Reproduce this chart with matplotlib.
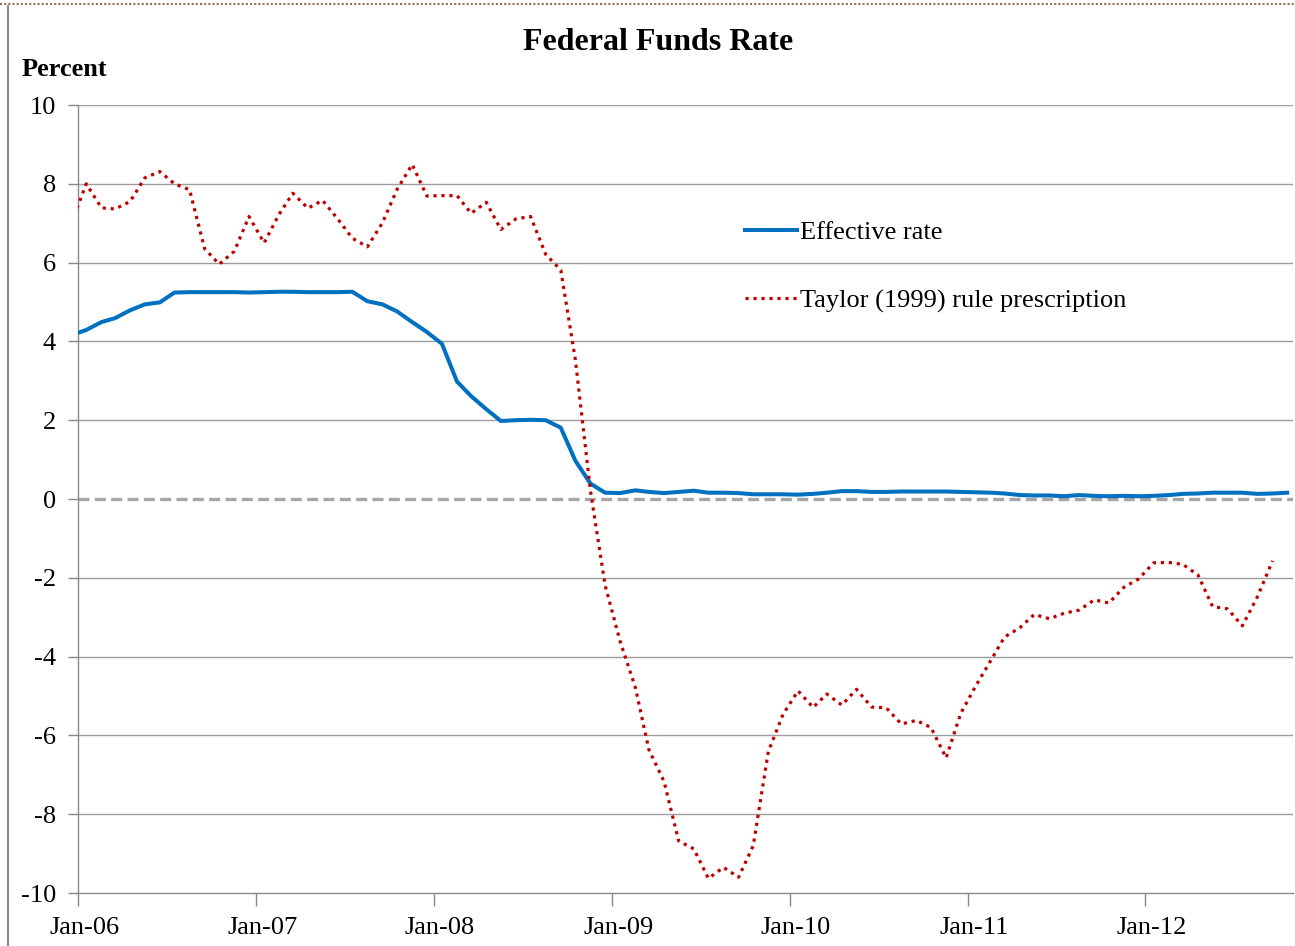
import numpy as np
import pandas as pd
import matplotlib
matplotlib.use("Agg")
import matplotlib.pyplot as plt
import matplotlib.dates as mdates
from matplotlib.lines import Line2D

plt.rcParams['font.family'] = ['Liberation Serif', 'DejaVu Serif']
plt.rcParams['axes.unicode_minus'] = False

# ---------------- data ----------------
blue_start, blue_end = '2005-12-01', '2012-10-01'
red_start, red_end = '2005-12-01', '2012-09-01'

effective_rate = [
    4.16,
    4.29, 4.49, 4.59, 4.79, 4.94, 4.99, 5.24, 5.25, 5.25, 5.25, 5.25, 5.24,
    5.25, 5.26, 5.26, 5.25, 5.25, 5.25, 5.26, 5.02, 4.94, 4.76, 4.49, 4.24,
    3.94, 2.98, 2.61, 2.28, 1.98, 2.00, 2.01, 2.00, 1.81, 0.97, 0.39, 0.16,
    0.15, 0.22, 0.18, 0.15, 0.18, 0.21, 0.16, 0.16, 0.15, 0.12, 0.12, 0.12,
    0.11, 0.13, 0.16, 0.20, 0.20, 0.18, 0.18, 0.19, 0.19, 0.19, 0.19, 0.18,
    0.17, 0.16, 0.14, 0.10, 0.09, 0.09, 0.07, 0.10, 0.08, 0.07, 0.08, 0.07,
    0.08, 0.10, 0.13, 0.14, 0.16, 0.16, 0.16, 0.13, 0.14, 0.16,
]

taylor_rule = [
    7.00,
    8.00, 7.39, 7.36, 7.55, 8.15, 8.31, 8.00, 7.85, 6.35, 5.96, 6.29, 7.17,
    6.50, 7.23, 7.76, 7.38, 7.58, 7.11, 6.62, 6.40, 7.01, 7.86, 8.49, 7.69,
    7.70, 7.70, 7.25, 7.53, 6.84, 7.11, 7.17, 6.21, 5.81, 3.53, 0.20, -2.19,
    -3.62, -4.78, -6.37, -7.17, -8.68, -8.88, -9.63, -9.35, -9.60, -8.80, -6.41, -5.47,
    -4.87, -5.29, -4.95, -5.23, -4.83, -5.28, -5.30, -5.71, -5.62, -5.80, -6.57, -5.44,
    -4.74, -4.09, -3.50, -3.27, -2.93, -3.04, -2.90, -2.82, -2.56, -2.64, -2.24, -2.03,
    -1.62, -1.61, -1.66, -1.93, -2.73, -2.79, -3.22, -2.48, -1.57,
]

y_ticks = [-10, -8, -6, -4, -2, 0, 2, 4, 6, 8, 10]
x_tick_years = ['2006', '2007', '2008', '2009', '2010', '2011', '2012']

series_names = ['Effective rate', 'Taylor (1999) rule prescription']
title = 'Federal Funds Rate'
y_label = 'Percent'

# ---------------- figure ----------------
W, H = 1295, 946
fig = plt.figure(figsize=(W / 100, H / 100), dpi=100)
fig.patch.set_facecolor('white')

L, R, T, B = 78, 1293, 105, 893
ax = fig.add_axes([L / W, 1 - B / H, (R - L) / W, (B - T) / H])

# dates: monthly values plotted mid-month
blue_dates = pd.date_range(blue_start, blue_end, freq='MS') + pd.Timedelta(days=17)
red_dates = pd.date_range(red_start, red_end, freq='MS') + pd.Timedelta(days=17)

# grid
for yv in y_ticks:
    if yv in (0, -10):
        continue
    ax.axhline(yv, color='#9d9d9d', lw=1.0, zorder=1)
ax.axhline(0, color='#a6a6a6', lw=2.4, dashes=(3.3, 1.6), zorder=2)

ax.plot(blue_dates, effective_rate, color='#0070c0', lw=2.9,
        solid_joinstyle='round', label=series_names[0], zorder=3)
ax.plot(red_dates, taylor_rule, color='#c00000', lw=2.3,
        linestyle=(0, (1, 1.5)), label=series_names[1], zorder=4)

ax.set_xlim(pd.Timestamp('2006-01-01'), pd.Timestamp('2012-10-30'))
ax.set_ylim(-10, 10)

# y axis
ax.set_yticks(y_ticks)
ax.set_yticklabels([str(v) for v in y_ticks])
ax.tick_params(axis='y', direction='out', length=7, width=1, color='#888888',
               pad=9, labelsize=19, labelcolor='black')

# x axis: tick marks at Jan 1, labels slightly right
major = [pd.Timestamp(y + '-01-01') for y in x_tick_years]
minor = [d + pd.Timedelta(days=13) for d in major]
ax.set_xticks(major)
ax.set_xticklabels([''] * len(major))
ax.set_xticks(minor, minor=True)
ax.xaxis.set_minor_formatter(mdates.DateFormatter('%b-%y'))
ax.tick_params(axis='x', which='major', direction='out', length=9, width=1,
               color='#888888')
ax.tick_params(axis='x', which='minor', length=0, pad=17, labelsize=19,
               labelcolor='black')

for s in ['top', 'right']:
    ax.spines[s].set_visible(False)
for s in ['left', 'bottom']:
    ax.spines[s].set_color('#8a8a8a')
    ax.spines[s].set_linewidth(1.0)

# legend
leg = ax.legend(loc='upper left', bbox_to_anchor=(745 / W, 1 - 221 / H),
                bbox_transform=fig.transFigure, frameon=False, fontsize=19,
                handlelength=1.97, handletextpad=0.12, labelspacing=1.68,
                borderpad=0, borderaxespad=0)

# titles
fig.text(658 / W, 1 - 42 / H, title, ha='center', va='center',
         fontsize=23, fontweight='bold')
fig.text(22 / W, 1 - 70 / H, y_label, ha='left', va='center',
         fontsize=19, fontweight='bold')

# outer frame decorations
fig.add_artist(Line2D([0, 1], [1 - 4 / H, 1 - 4 / H], transform=fig.transFigure,
                      color='#8b7650', lw=1.5, linestyle=(0, (1, 1))))
fig.add_artist(Line2D([8 / W, 8 / W], [0, 1 - 6 / H], transform=fig.transFigure,
                      color='#8c8c8c', lw=1.5))

fig.savefig('out.png', dpi=100)
